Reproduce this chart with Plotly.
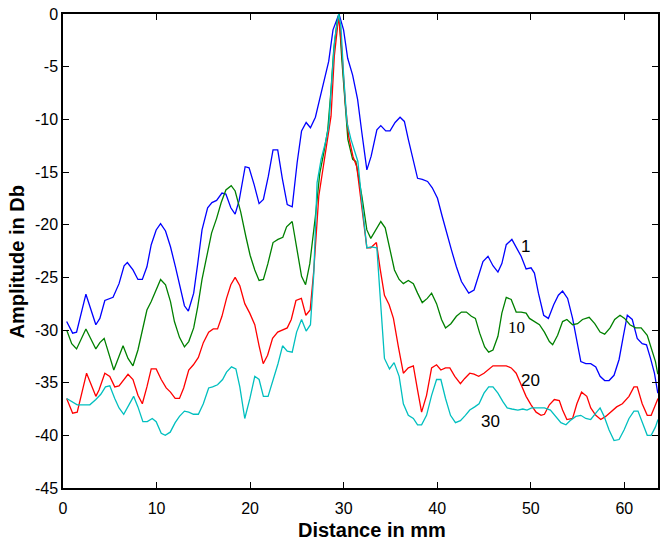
import plotly.graph_objects as go

# ---- Data ----
x_1 = [0.39, 1.03, 1.45, 2.45, 3.51, 3.94, 4.47, 5.35, 5.99, 6.53, 6.88, 7.48, 8.01, 8.48, 8.97,
       9.43, 9.96, 10.43, 10.96, 11.49, 12.02, 12.52, 12.98, 13.40, 13.97, 14.40, 14.86, 15.46,
       15.92, 16.42, 16.99, 17.41, 17.94, 18.40, 18.83, 19.47, 19.89, 20.43, 20.96, 21.42, 21.95,
       22.45, 22.95, 23.44, 23.97, 24.50, 25.03, 25.50, 25.99, 26.45, 26.98, 27.43, 27.87, 28.40,
       28.86, 29.50, 29.99, 30.43, 30.96, 31.49, 31.95, 32.48, 32.94, 33.55, 33.97, 34.50, 34.96,
       35.50, 36.03, 36.49, 36.91, 37.45, 37.90, 38.40, 38.97, 39.47, 40.03, 40.53, 40.99, 41.52,
       42.05, 42.59, 43.37, 43.94, 44.89, 45.43, 45.96, 46.49, 46.91, 47.38, 47.98, 48.50, 48.97,
       49.50, 50.03, 50.39, 50.82, 51.38, 51.88, 52.45, 52.95, 53.40, 53.94, 54.47, 54.93, 55.35,
       55.88, 56.41, 56.95, 57.41, 57.90, 58.37, 58.90, 59.44, 59.89, 60.32, 60.85, 61.38, 61.91,
       62.37, 62.80, 63.22, 63.58]
y_1 = [-29.2, -30.3, -30.2, -26.6, -29.5, -28.9, -27.2, -26.9, -25.6, -23.9, -23.6, -24.3, -25.2, -25.2, -24.0,
       -21.9, -20.5, -19.9, -20.6, -22.1, -24.0, -25.9, -27.7, -28.2, -26.5, -23.7, -20.5, -18.4,
       -17.9, -17.7, -17.0, -17.1, -18.4, -19.0, -17.7, -14.5, -14.6, -16.2, -18.0, -17.6, -15.4,
       -12.9, -12.9, -15.6, -18.1, -18.3, -14.1, -11.1, -10.3, -10.8, -9.8, -8.1, -6.5, -4.5,
       -1.5, 0.0, -1.5, -4.2, -5.8, -8.1, -11.3, -14.8, -13.5, -11.0, -10.6, -11.1, -11.1,
       -10.3, -9.8, -10.2, -11.9, -14.0, -15.6, -15.7, -15.9, -16.5, -17.5, -19.2, -20.8, -22.4,
       -24.0, -25.4, -26.5, -26.2, -23.5, -23.0, -23.9, -24.5, -23.7, -21.9, -21.4, -22.2, -23.0,
       -24.2, -24.1, -24.6, -26.5, -28.6, -28.9, -27.6, -26.7, -26.3, -27.0, -28.9, -31.1, -33.0,
       -33.2, -33.2, -33.5, -34.4, -34.8, -34.8, -34.3, -32.8, -30.6, -28.6, -29.0, -30.8, -31.3,
       -31.4, -32.7, -34.1, -36.0]

x_10 = [0.39, 0.93, 1.45, 2.45, 3.51, 3.94, 4.40, 5.43, 5.99, 6.42, 6.95, 7.48, 8.01, 8.48, 8.97,
        9.43, 9.96, 10.43, 10.96, 11.49, 11.91, 12.45, 12.98, 13.44, 13.97, 14.40, 14.86, 15.35,
        15.88, 16.42, 16.91, 17.41, 17.98, 18.40, 19.00, 19.54, 20.00, 20.50, 20.96, 21.42, 21.90,
        22.45, 22.98, 23.50, 23.90, 24.50, 25.03, 25.50, 25.93, 26.38, 26.98, 27.45, 27.87, 28.30,
        28.65, 28.94, 29.29, 29.50, 29.80, 30.17, 30.45, 30.96, 31.30, 31.95, 32.48, 32.90, 33.47,
        33.97, 34.44, 34.90, 35.43, 35.93, 36.38, 36.91, 37.45, 37.90, 38.40, 38.94, 39.40, 39.93,
        40.46, 40.89, 41.46, 42.05, 42.59, 43.12, 43.65, 44.08, 44.54, 45.07, 45.50, 45.96, 46.49,
        46.91, 47.38, 47.91, 48.44, 48.97, 49.50, 49.86, 50.39, 50.93, 51.46, 51.99, 52.34, 52.87,
        53.40, 53.86, 54.47, 55.00, 55.53, 56.24, 56.84, 57.41, 57.90, 58.48, 58.97, 59.54, 60.03,
        60.60, 61.20, 61.80, 62.45, 62.87, 63.33, 63.58]
y_10 = [-30.0, -31.3, -31.8, -29.9, -31.8, -31.2, -30.8, -33.8, -32.5, -31.5, -32.7, -33.4, -31.9, -30.0, -28.1,
        -27.3, -26.2, -25.2, -25.7, -27.3, -29.2, -30.7, -31.6, -31.1, -29.8, -27.8, -25.2, -23.0,
        -20.8, -19.4, -17.9, -16.7, -16.3, -16.8, -18.8, -21.1, -22.9, -24.3, -25.3, -25.2, -23.7,
        -21.7, -21.4, -21.2, -20.2, -19.7, -22.4, -24.9, -25.7, -23.7, -19.2, -15.1, -13.2, -11.0,
        -7.2, -3.4, -0.8, 0.0, -4.3, -9.1, -11.9, -13.8, -14.0, -17.3, -20.5, -21.3, -20.4,
        -19.7, -20.3, -22.1, -24.3, -25.2, -25.6, -25.3, -25.6, -26.5, -27.4, -27.0, -26.5, -27.5,
        -29.0, -29.8, -29.4, -28.7, -28.3, -28.3, -28.7, -28.9, -30.3, -31.6, -32.1, -31.9, -30.6,
        -28.4, -26.9, -27.1, -28.3, -28.3, -28.4, -28.9, -29.2, -29.5, -30.2, -31.1, -31.4, -30.5,
        -29.2, -29.0, -29.5, -29.4, -29.0, -28.8, -29.4, -30.2, -30.4, -29.8, -29.0, -28.6, -28.9,
        -29.5, -29.8, -29.8, -30.5, -31.6, -33.0, -34.2]

x_20 = [0.39, 1.03, 1.52, 2.52, 3.51, 3.85, 4.47, 5.00, 5.53, 5.99, 6.95, 7.48, 8.01, 8.48, 8.97,
        9.43, 9.96, 10.50, 11.03, 11.49, 11.99, 12.45, 12.90, 13.44, 13.94, 14.47, 15.00, 15.57,
        16.06, 16.52, 16.99, 17.48, 17.94, 18.40, 18.90, 19.43, 19.96, 20.50, 20.96, 21.40, 21.87,
        22.40, 22.95, 23.50, 23.97, 24.40, 24.90, 25.48, 25.96, 26.42, 26.81, 27.34, 27.80, 28.22,
        28.65, 29.00, 29.47, 29.80, 30.17, 30.53, 30.99, 31.40, 31.95, 32.48, 32.90, 33.50, 33.90,
        34.36, 34.86, 35.32, 35.85, 36.38, 36.91, 37.45, 37.90, 38.33, 38.86, 39.40, 39.93, 40.39,
        40.89, 41.35, 41.88, 42.48, 42.94, 43.48, 43.94, 44.43, 45.00, 45.50, 45.96, 46.67, 47.38,
        47.91, 48.44, 48.97, 49.50, 50.03, 50.57, 51.10, 51.46, 51.99, 52.52, 53.05, 53.40, 53.86,
        54.47, 54.93, 55.43, 55.99, 56.41, 56.95, 57.48, 58.01, 58.54, 59.18, 59.79, 60.50, 61.03,
        61.38, 61.91, 62.45, 62.87, 63.33, 63.60]
y_20 = [-36.5, -37.9, -37.8, -34.1, -36.3, -35.7, -34.1, -34.4, -35.4, -35.3, -34.2, -34.7, -36.2, -37.0, -35.4,
        -33.7, -33.7, -34.7, -35.5, -35.9, -36.5, -36.5, -35.5, -33.8, -33.3, -32.6, -31.2, -30.2,
        -29.9, -29.9, -28.7, -27.0, -25.7, -25.0, -25.8, -27.5, -28.4, -29.5, -31.5, -33.2, -32.4,
        -30.8, -30.2, -30.0, -29.8, -29.0, -27.2, -27.0, -28.6, -28.1, -24.3, -17.3, -14.5, -12.2,
        -9.7, -4.0, -0.2, -3.4, -8.4, -11.6, -13.5, -14.5, -18.3, -22.2, -22.2, -21.7, -24.2,
        -26.7, -27.6, -28.9, -31.6, -34.1, -33.6, -33.4, -35.7, -37.8, -36.2, -33.6, -33.3, -33.8,
        -33.6, -33.6, -34.4, -35.1, -34.6, -34.1, -34.2, -34.4, -34.1, -33.7, -33.4, -33.4, -33.4,
        -33.6, -34.1, -35.2, -36.3, -37.1, -37.8, -38.1, -38.0, -37.1, -36.6, -36.7, -37.6, -38.5,
        -38.4, -37.0, -35.9, -36.3, -37.4, -38.1, -38.5, -38.2, -37.8, -37.3, -37.0, -36.3, -35.4,
        -35.4, -37.0, -38.1, -38.1, -37.1, -36.5]

x_30 = [0.39, 0.93, 1.52, 2.16, 2.87, 3.51, 4.04, 4.54, 5.00, 5.53, 5.99, 6.49, 7.06, 7.55, 8.01,
        8.54, 9.01, 9.54, 9.96, 10.50, 10.93, 11.46, 11.99, 12.45, 12.98, 13.44, 13.94, 14.47,
        15.00, 15.57, 15.99, 16.52, 17.06, 17.48, 18.01, 18.48, 18.90, 19.43, 19.98, 20.50, 20.96,
        21.42, 21.92, 22.46, 22.98, 23.47, 23.97, 24.50, 24.97, 25.50, 25.99, 26.45, 26.81, 27.16,
        27.59, 28.05, 28.40, 28.76, 29.04, 29.47, 29.71, 30.00, 30.35, 30.78, 31.13, 31.52, 31.95,
        32.48, 32.91, 33.55, 33.90, 34.36, 34.90, 35.39, 35.93, 36.38, 36.91, 37.45, 37.90, 38.33,
        38.86, 39.40, 39.93, 40.39, 40.89, 41.42, 41.95, 42.48, 43.01, 43.48, 44.01, 44.47, 45.00,
        45.50, 45.96, 46.49, 47.02, 47.48, 47.98, 48.62, 49.15, 49.60, 50.10, 50.74, 51.46, 52.10,
        52.70, 53.22, 53.76, 54.22, 54.82, 55.35, 55.88, 56.41, 56.95, 57.41, 57.84, 58.37, 58.90,
        59.44, 59.97, 60.50, 61.03, 61.46, 62.02, 62.45, 62.87, 63.33, 63.60]
y_30 = [-36.5, -36.8, -37.1, -37.1, -37.1, -36.6, -36.1, -35.4, -35.3, -36.5, -37.4, -38.0, -37.1, -36.3, -37.3,
        -38.7, -38.7, -38.4, -38.7, -39.8, -40.0, -39.7, -38.8, -38.2, -37.7, -37.8, -38.0, -38.0,
        -37.0, -35.5, -35.4, -35.2, -34.7, -34.0, -33.5, -33.7, -35.4, -38.4, -36.5, -34.4, -34.7,
        -36.3, -36.3, -34.7, -33.2, -31.5, -32.0, -32.1, -30.2, -29.0, -30.1, -29.5, -24.6, -16.0,
        -13.8, -12.2, -10.7, -5.9, -2.4, 0.0, -1.2, -5.9, -10.3, -11.9, -12.9, -14.0, -17.9,
        -22.2, -22.1, -22.2, -26.8, -32.7, -33.7, -33.1, -34.4, -37.0, -38.1, -38.4, -39.0, -39.0,
        -38.1, -36.2, -34.7, -34.7, -36.5, -38.1, -38.8, -38.6, -38.1, -37.6, -37.3, -37.0, -36.0,
        -35.4, -35.4, -36.0, -36.8, -37.4, -37.5, -37.6, -37.5, -37.6, -37.4, -37.4, -37.4, -37.6,
        -38.2, -38.8, -39.0, -38.6, -38.2, -38.1, -38.4, -38.5, -37.9, -37.4, -38.2, -39.5, -40.5,
        -40.4, -39.5, -38.4, -37.7, -37.7, -39.0, -40.0, -40.0, -39.2, -38.5]

curve_labels = ["1", "10", "20", "30"]
label_x = [49.39, 48.5, 49.92, 45.72]
label_y = [-22.08, -29.74, -34.75, -38.72]

x_ticks = [0, 10, 20, 30, 40, 50, 60]
y_ticks = [-45, -40, -35, -30, -25, -20, -15, -10, -5, 0]

x_title = "Distance in mm"
y_title = "Amplitude in Db"

# ---- Figure ----
series = [(x_1, y_1, "#0000FF"), (x_10, y_10, "#008000"),
          (x_20, y_20, "#FF0000"), (x_30, y_30, "#00BFBF")]

fig = go.Figure()
for (xs, ys, col), name in zip(series, curve_labels):
    fig.add_trace(go.Scatter(x=xs, y=ys, mode="lines", name=name,
                             line=dict(color=col, width=1.3), showlegend=False))

label_fonts = ["Liberation Sans", "Liberation Serif", "Liberation Sans", "Liberation Sans"]
for t, lx, ly, f in zip(curve_labels, label_x, label_y, label_fonts):
    fig.add_annotation(x=lx, y=ly, text=t, showarrow=False,
                       font=dict(family=f, size=17, color="black"),
                       xanchor="center", yanchor="middle")

fig.add_annotation(xref="paper", yref="paper", x=0.519, y=-0.0887, text=x_title,
                   showarrow=False, xanchor="center", yanchor="middle",
                   font=dict(family="Liberation Sans", size=20, color="black", weight="bold"))
fig.add_annotation(xref="paper", yref="paper", x=-0.0779, y=0.4773, text=y_title,
                   showarrow=False, xanchor="center", yanchor="middle", textangle=-90,
                   font=dict(family="Liberation Sans", size=20, color="black", weight="bold"))

axis_common = dict(showgrid=False, zeroline=False, showline=True, linecolor="black",
                   linewidth=1.5, mirror="ticks", ticks="inside", ticklen=6,
                   tickcolor="black", tickwidth=1.2, ticklabeloverflow="allow",
                   tickfont=dict(family="Liberation Sans", size=16, color="black"))

fig.update_layout(
    width=661, height=540,
    margin=dict(l=63, r=1, t=14, b=52),
    paper_bgcolor="white", plot_bgcolor="white",
    xaxis=dict(range=[0, 63.6], tickvals=x_ticks, ticktext=[str(v) for v in x_ticks],
               ticklabelstandoff=5, **axis_common),
    yaxis=dict(range=[-45, 0], tickvals=y_ticks, ticktext=[str(v) for v in y_ticks],
               **axis_common),
)

# remove the default page margin so the 661x540 figure fills the window exactly
fig.write_html("out.html",
               config={"displayModeBar": False},
               post_script="document.body.style.margin='0';document.body.style.overflow='hidden';")
